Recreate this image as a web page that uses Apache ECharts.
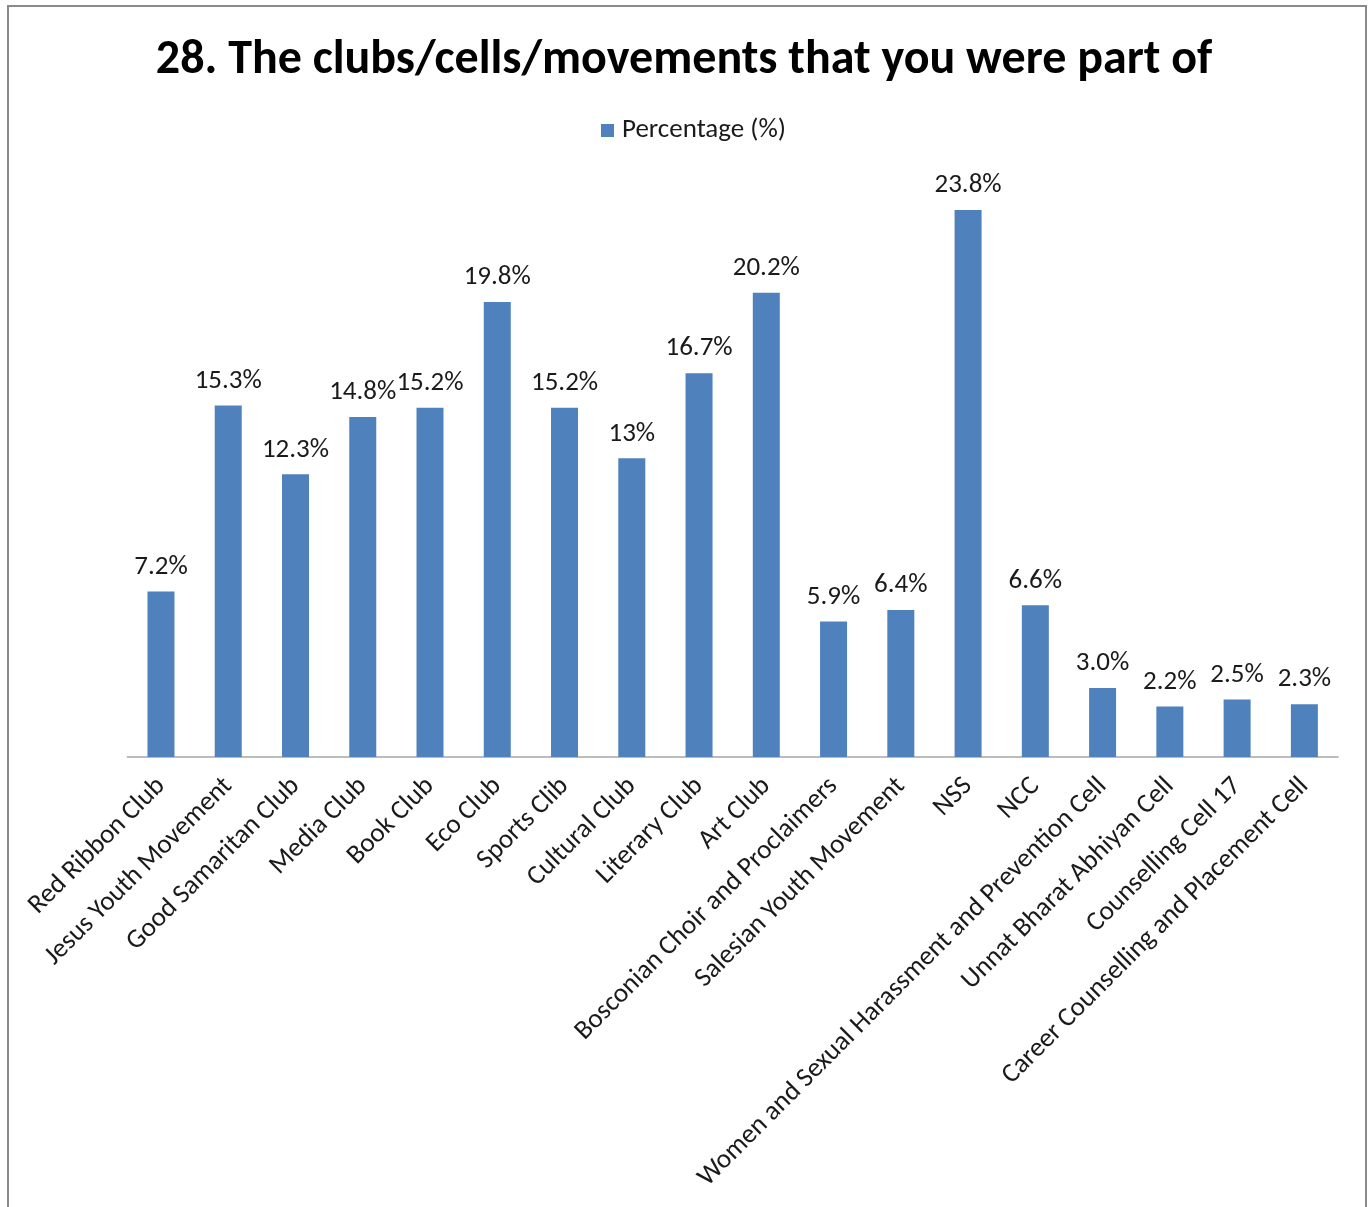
<!DOCTYPE html>
<html>
<head>
<meta charset="utf-8">
<script src="https://cdn.jsdelivr.net/npm/echarts@6/dist/echarts.min.js"></script>
<style>html,body{margin:0;padding:0;background:#fff}#chart{width:1368px;height:1207px}</style>
</head>
<body>
<div id="chart"></div>
<script>
const titleText = "28. The clubs/cells/movements that you were part of";
const seriesName = "Percentage (%)";
const categories = ["Red Ribbon Club","Jesus Youth Movement","Good Samaritan Club","Media Club","Book Club","Eco Club","Sports Clib","Cultural Club","Literary Club","Art Club","Bosconian Choir and Proclaimers","Salesian Youth Movement","NSS","NCC","Women and Sexual Harassment and Prevention Cell","Unnat Bharat Abhiyan Cell","Counselling Cell 17","Career Counselling and Placement Cell"];
const values = [7.2,15.3,12.3,14.8,15.2,19.8,15.2,13,16.7,20.2,5.9,6.4,23.8,6.6,3.0,2.2,2.5,2.3];
const valueLabels = ["7.2%","15.3%","12.3%","14.8%","15.2%","19.8%","15.2%","13%","16.7%","20.2%","5.9%","6.4%","23.8%","6.6%","3.0%","2.2%","2.5%","2.3%"];

const FONT = "Carlito, 'Liberation Sans', sans-serif";
const chart = echarts.init(document.getElementById('chart'), null, {renderer:'canvas'});
chart.setOption({
  backgroundColor:'#fff',
  animation:false,
  graphic:[{type:'rect',shape:{x:8,y:6,width:1358,height:1230},style:{fill:'none',stroke:'#8a8a8a',lineWidth:2},silent:true}],
  title:{text:titleText,left:'center',top:32,textStyle:{fontFamily:FONT,fontSize:48,fontWeight:'bold',color:'#000'}},
  legend:{data:[seriesName],left:601,top:117,padding:0,itemWidth:13,itemHeight:13,itemGap:8,icon:'rect',
    textStyle:{fontFamily:FONT,fontSize:27,color:'#1a1a1a',padding:[0,0,0,3]}},
  grid:{left:127.35,right:30,top:182.5,bottom:450,containLabel:false},
  xAxis:{type:'category',data:categories,
    axisLine:{lineStyle:{color:'#a6a6a6',width:1.5}},axisTick:{show:false},
    axisLabel:{interval:0,rotate:45,margin:25,fontFamily:FONT,fontSize:27,color:'#1a1a1a'}},
  yAxis:{type:'value',min:0,max:25,show:false,splitLine:{show:false}},
  series:[{name:seriesName,type:'bar',data:values,barWidth:27,
    itemStyle:{color:'#4f81bd'},
    label:{show:true,position:'top',distance:11,fontFamily:FONT,fontSize:27,color:'#1a1a1a',
      formatter:p=>valueLabels[p.dataIndex]}}]
});
</script>
</body>
</html>
